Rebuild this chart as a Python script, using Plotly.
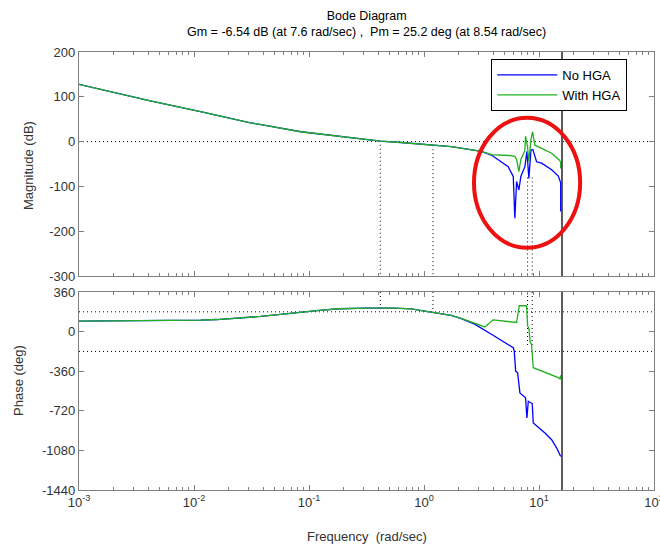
import plotly.graph_objects as go

# ---------------- data ----------------
w_mag_no = [0.001, 0.00152, 0.00251, 0.00417, 0.0114, 0.031, 0.0849, 0.232, 0.417, 0.632, 1.156, 1.413, 1.726, 3.155,
            3.855, 5.395, 5.97, 6.166, 6.383, 6.683, 6.95, 7.534, 7.852, 8.166, 8.511, 8.851, 9.528, 10.54, 12.88,
            14.72, 15.3, 15.44, 15.44]
mag_no = [128, 117, 104, 91, 67, 42, 22, 9, 1, -2, -7, -9, -11, -22,
          -30, -56, -78, -171, -89, -108, -78, -56, -22, -82, -19, -18, -45, -48, -63,
          -77, -89, -92, -156]

w_mag_with = [0.001, 0.00152, 0.00251, 0.00417, 0.0114, 0.031, 0.0849, 0.232, 0.417, 0.632, 1.156, 1.413, 1.726, 3.155,
              3.855, 5.395, 6.166, 6.383, 6.683, 6.95, 7.534, 7.638, 7.943, 8.166, 8.511, 8.79, 9.204, 10.54, 12.88,
              15.0, 15.44, 15.44]
mag_with = [128, 117, 104, 91, 67, 42, 22, 9, 1, -2, -7, -9, -11, -22,
            -29, -31, -33, -40, -67, -40, -20, 12, -11, -45, 5, 22, -8, -15, -26,
            -41, -46, -60]

w_ph_no = [0.001, 0.00899, 0.0114, 0.0158, 0.029, 0.038, 0.0513, 0.0676, 0.0912, 0.123, 0.183, 0.316, 0.553, 0.776,
           0.955, 1.156, 1.413, 1.726, 2.113, 2.754, 3.855, 5.395, 5.97, 6.095, 6.266, 6.516, 6.823, 7.638, 7.852,
           8.072, 8.61, 8.73, 8.913, 11.27, 12.88, 14.26, 15.44]
ph_no = [95, 97, 104, 110, 125, 138, 152, 166, 180, 194, 208, 214, 213, 206,
         190, 177, 162, 147, 118, 68, -24, -115, -146, -176, -359, -374, -557, -602, -785,
         -633, -648, -654, -831, -922, -983, -1059, -1136]

w_ph_with = [0.001, 0.00899, 0.0114, 0.0158, 0.029, 0.038, 0.0513, 0.0676, 0.0912, 0.123, 0.183, 0.316, 0.553, 0.776,
             0.955, 1.156, 1.413, 1.726, 2.113, 2.754, 3.373, 3.99, 5.047, 6.383, 6.73, 7.798, 7.962, 8.166, 8.395,
             8.61, 8.913, 14.9, 15.3, 15.44]
ph_with = [95, 97, 104, 110, 125, 138, 152, 166, 180, 194, 208, 214, 213, 206,
           190, 177, 162, 147, 120, 80, 43, 107, 98, 83, 235, 235, 52, 30, -100,
           -115, -328, -420, -435, -398]

series_names = ["No HGA", "With HGA"]
series_colors = ["#0000ff", "#22b022"]

# margin markers (frequencies, rad/s) and their extents
margin_w = [0.417, 1.197, 7.94, 8.73]
margin_mag_top = [-7, -8, -80, -80]
margin_ph_bottom = [180, 178, -130, -130]
nyquist_w = 15.85

mag_ticks = [-300, -200, -100, 0, 100, 200]
mag_labels = ["-300", "-200", "-100", "0", "100", "200"]
ph_ticks = [-1440, -1080, -720, -360, 0, 360]
ph_labels = ["-1440", "-1080", "-720", "-360", "0", "360"]
x_major = [1e-3, 1e-2, 1e-1, 1e0, 1e1, 1e2]
x_labels = ["10<sup>-3</sup>", "10<sup>-2</sup>", "10<sup>-1</sup>", "10<sup>0</sup>", "10<sup>1</sup>", "10<sup>2</sup>"]
x_minor = [m * d for d in x_major[:-1] for m in range(2, 10)]

title_text = "Bode Diagram<br>Gm = -6.54 dB (at 7.6 rad/sec) ,  Pm = 25.2 deg (at 8.54 rad/sec)"

# ---------------- figure ----------------
FONT = "Liberation Sans, Arial, sans-serif"
AX = "#808080"
TXT = "#333333"

fig = go.Figure()
fig.add_trace(go.Scatter(x=w_mag_no, y=mag_no, mode="lines", name=series_names[0],
                         line=dict(color=series_colors[0], width=1.3), xaxis="x", yaxis="y"))
fig.add_trace(go.Scatter(x=w_mag_with, y=mag_with, mode="lines", name=series_names[1],
                         line=dict(color=series_colors[1], width=1.3), xaxis="x", yaxis="y"))
fig.add_trace(go.Scatter(x=w_ph_no, y=ph_no, mode="lines", showlegend=False,
                         line=dict(color=series_colors[0], width=1.3), xaxis="x2", yaxis="y2"))
fig.add_trace(go.Scatter(x=w_ph_with, y=ph_with, mode="lines", showlegend=False,
                         line=dict(color=series_colors[1], width=1.3), xaxis="x2", yaxis="y2"))

axis_common = dict(showline=True, linecolor=AX, linewidth=1.3, mirror="ticks", ticks="inside",
                   ticklen=5, tickcolor=AX, tickwidth=1, showgrid=False, zeroline=False,
                   automargin=False, tickfont=dict(family=FONT, size=13, color=TXT))

xcommon = dict(axis_common, type="log", range=[-3, 2], tickvals=x_major, ticktext=x_labels,
               ticklabeloverflow="allow",
               minor=dict(tickvals=x_minor, ticks="inside", ticklen=3, tickcolor=AX, showgrid=False))

fig.update_layout(
    width=660, height=544,
    margin=dict(l=79, r=6, t=52, b=54, autoexpand=False),
    paper_bgcolor="white", plot_bgcolor="white",
    xaxis=dict(xcommon, anchor="y", showticklabels=False, matches="x2"),
    xaxis2=dict(xcommon, anchor="y2"),
    yaxis=dict(axis_common, domain=[0.4886, 1.0], range=[-300, 200], tickvals=mag_ticks,
               ticktext=mag_labels, anchor="x"),
    yaxis2=dict(axis_common, domain=[0.0, 0.452], range=[-1440, 360], tickvals=ph_ticks,
                ticktext=ph_labels, anchor="x2"),
    showlegend=True,
    legend=dict(x=0.717, y=0.984, xanchor="left", yanchor="top", bgcolor="white",
                bordercolor="black", borderwidth=1, font=dict(family=FONT, size=13, color="black"),
                itemwidth=60, tracegroupgap=0),
)

shapes = []
dot = dict(color="black", width=1, dash="1px,3px")
# horizontal reference lines
shapes.append(dict(type="line", xref="x domain", yref="y", x0=0, x1=1, y0=0, y1=0, line=dot, layer="below"))
shapes.append(dict(type="line", xref="x2 domain", yref="y2", x0=0, x1=1, y0=180, y1=180, line=dot, layer="below"))
shapes.append(dict(type="line", xref="x2 domain", yref="y2", x0=0, x1=1, y0=-180, y1=-180, line=dot, layer="below"))
# margin markers
for wv, mt, pb in zip(margin_w, margin_mag_top, margin_ph_bottom):
    shapes.append(dict(type="line", xref="x", yref="y", x0=wv, x1=wv, y0=mt, y1=-300, line=dot, layer="below"))
    shapes.append(dict(type="line", xref="x2", yref="y2", x0=wv, x1=wv, y0=360, y1=pb, line=dot, layer="below"))
# Nyquist line
for xr, yr in (("x", "y domain"), ("x2", "y2 domain")):
    shapes.append(dict(type="line", xref=xr, yref=yr, x0=nyquist_w, x1=nyquist_w, y0=0, y1=1,
                       line=dict(color="#333333", width=1.6)))
# red highlight ellipse
shapes.append(dict(type="circle", xref="x", yref="y", x0=2.72, x1=22.8, y0=-237, y1=53,
                   line=dict(color="#ee1111", width=4)))
fig.update_layout(shapes=shapes)

fig.add_annotation(text=title_text, xref="paper", yref="paper", x=0.5, y=1.065,
                   xanchor="center", yanchor="middle", showarrow=False,
                   font=dict(family=FONT, size=12.5, color="black"))
fig.add_annotation(text="Magnitude (dB)", xref="paper", yref="paper", x=(28 - 79) / 575, y=(490 - 166) / 438,
                   textangle=-90, xanchor="center", yanchor="middle", showarrow=False,
                   font=dict(family=FONT, size=13, color=TXT))
fig.add_annotation(text="Phase (deg)", xref="paper", yref="paper", x=(18 - 79) / 575, y=(490 - 381) / 438,
                   textangle=-90, xanchor="center", yanchor="middle", showarrow=False,
                   font=dict(family=FONT, size=13, color=TXT))
fig.add_annotation(text="Frequency  (rad/sec)", xref="paper", yref="paper", x=0.5, y=(490 - 536) / 438,
                   xanchor="center", yanchor="middle", showarrow=False,
                   font=dict(family=FONT, size=13, color=TXT))

fig.write_html("out.html")
